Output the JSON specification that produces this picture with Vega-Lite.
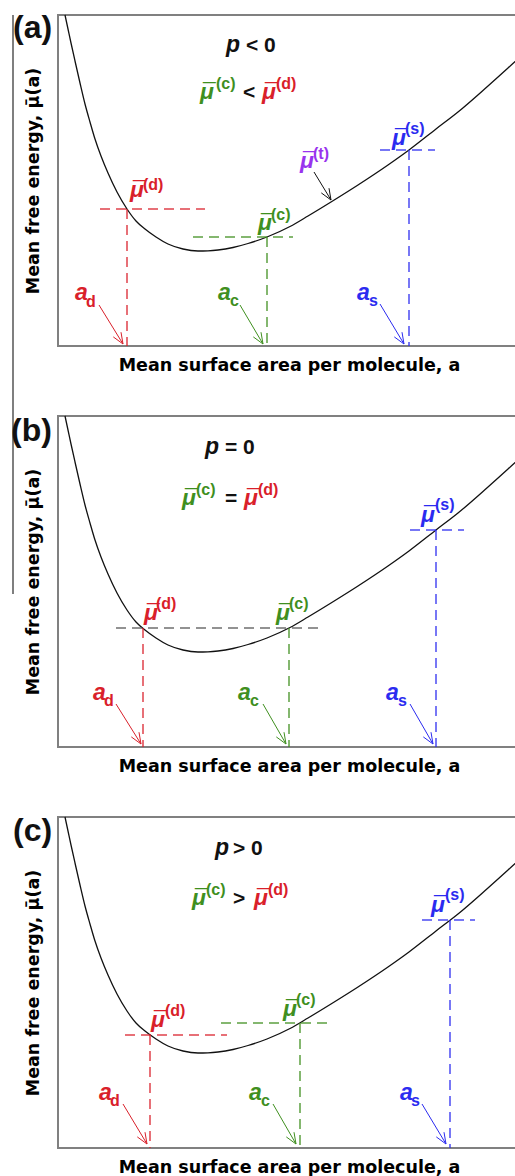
{
  "$schema": "https://vega.github.io/schema/vega-lite/v6.json",
  "padding": {"left": 10, "top": 10, "right": 0, "bottom": 0},
  "autosize": {"type": "pad"},
  "bounds": "flush",
  "spacing": 70,
  "config": {
    "view": {"stroke": "#808080", "strokeWidth": 2},
    "axis": {"ticks": false, "labels": false, "domain": false, "grid": false, "titleFont": "DejaVu Sans", "titleFontSize": 17.5, "titleFontWeight": "bold", "titleColor": "#000000"},
    "axisX": {"titlePadding": 10},
    "axisY": {"titlePadding": 16}
  },
  "datasets": {
    "curve": [
      {"x": 7, "y": 331}, {"x": 10, "y": 317}, {"x": 13, "y": 303}, {"x": 17, "y": 285}, {"x": 22, "y": 263},
      {"x": 27, "y": 242}, {"x": 32, "y": 224}, {"x": 37, "y": 207}, {"x": 43, "y": 190}, {"x": 50, "y": 173},
      {"x": 59, "y": 154}, {"x": 69, "y": 137}, {"x": 78, "y": 125}, {"x": 87, "y": 117}, {"x": 98, "y": 109},
      {"x": 110, "y": 102}, {"x": 125, "y": 97}, {"x": 140, "y": 95}, {"x": 150, "y": 95.2}, {"x": 160, "y": 96},
      {"x": 175, "y": 98.5}, {"x": 190, "y": 102.5}, {"x": 209, "y": 109}, {"x": 232, "y": 119.5}, {"x": 250, "y": 130},
      {"x": 273, "y": 144}, {"x": 300, "y": 161}, {"x": 330, "y": 181}, {"x": 351, "y": 196}, {"x": 378, "y": 217},
      {"x": 400, "y": 234}, {"x": 430, "y": 260}, {"x": 460, "y": 287}, {"x": 470, "y": 296}
    ],
    "dash": [
      {"p": "a", "k": "d", "x": 42, "y": 137, "x2": 147, "y2": 137},
      {"p": "a", "k": "d", "x": 69, "y": 137, "x2": 69, "y2": 0},
      {"p": "a", "k": "c", "x": 135, "y": 109, "x2": 235, "y2": 109},
      {"p": "a", "k": "c", "x": 209, "y": 109, "x2": 209, "y2": 0},
      {"p": "a", "k": "s", "x": 322, "y": 196, "x2": 377, "y2": 196},
      {"p": "a", "k": "s", "x": 351, "y": 196, "x2": 351, "y2": 0},
      {"p": "b", "k": "g", "x": 58, "y": 119, "x2": 260, "y2": 119},
      {"p": "b", "k": "d", "x": 85, "y": 119, "x2": 85, "y2": 0},
      {"p": "b", "k": "c", "x": 231, "y": 119, "x2": 231, "y2": 0},
      {"p": "b", "k": "s", "x": 352, "y": 217, "x2": 406, "y2": 217},
      {"p": "b", "k": "s", "x": 378, "y": 217, "x2": 378, "y2": 0},
      {"p": "c", "k": "d", "x": 67, "y": 113, "x2": 169, "y2": 113},
      {"p": "c", "k": "d", "x": 92, "y": 113, "x2": 92, "y2": 0},
      {"p": "c", "k": "c", "x": 163, "y": 125, "x2": 271, "y2": 125},
      {"p": "c", "k": "c", "x": 242, "y": 125, "x2": 242, "y2": 0},
      {"p": "c", "k": "s", "x": 364, "y": 228, "x2": 417, "y2": 228},
      {"p": "c", "k": "s", "x": 392, "y": 228, "x2": 392, "y2": 0}
    ],
    "arrow": [
      {"p": "a", "k": "d", "x": 41, "y": 41, "x2": 65, "y2": 2},
      {"p": "a", "k": "d", "x": 55.3, "y": 9.1, "x2": 65, "y2": 2},
      {"p": "a", "k": "d", "x": 63, "y": 13.8, "x2": 65, "y2": 2},
      {"p": "a", "k": "c", "x": 182, "y": 41, "x2": 205, "y2": 2},
      {"p": "a", "k": "c", "x": 195.3, "y": 9.1, "x2": 205, "y2": 2},
      {"p": "a", "k": "c", "x": 203, "y": 13.8, "x2": 205, "y2": 2},
      {"p": "a", "k": "s", "x": 322, "y": 42, "x2": 346, "y2": 2},
      {"p": "a", "k": "s", "x": 336.3, "y": 9.1, "x2": 346, "y2": 2},
      {"p": "a", "k": "s", "x": 344, "y": 13.8, "x2": 346, "y2": 2},
      {"p": "a", "k": "k", "x": 256, "y": 174, "x2": 273, "y2": 146},
      {"p": "a", "k": "k", "x": 263.3, "y": 153.1, "x2": 273, "y2": 146},
      {"p": "a", "k": "k", "x": 271, "y": 157.8, "x2": 273, "y2": 146},
      {"p": "b", "k": "d", "x": 58, "y": 43, "x2": 83, "y2": 3},
      {"p": "b", "k": "d", "x": 73.3, "y": 10.1, "x2": 83, "y2": 3},
      {"p": "b", "k": "d", "x": 81, "y": 14.8, "x2": 83, "y2": 3},
      {"p": "b", "k": "c", "x": 205, "y": 43, "x2": 228, "y2": 3},
      {"p": "b", "k": "c", "x": 218.3, "y": 10.1, "x2": 228, "y2": 3},
      {"p": "b", "k": "c", "x": 226, "y": 14.8, "x2": 228, "y2": 3},
      {"p": "b", "k": "s", "x": 352, "y": 43, "x2": 375, "y2": 3},
      {"p": "b", "k": "s", "x": 365.3, "y": 10.1, "x2": 375, "y2": 3},
      {"p": "b", "k": "s", "x": 373, "y": 14.8, "x2": 375, "y2": 3},
      {"p": "c", "k": "d", "x": 65, "y": 44, "x2": 89, "y2": 4},
      {"p": "c", "k": "d", "x": 79.3, "y": 11.1, "x2": 89, "y2": 4},
      {"p": "c", "k": "d", "x": 87, "y": 15.8, "x2": 89, "y2": 4},
      {"p": "c", "k": "c", "x": 215, "y": 44, "x2": 238, "y2": 4},
      {"p": "c", "k": "c", "x": 228.3, "y": 11.1, "x2": 238, "y2": 4},
      {"p": "c", "k": "c", "x": 236, "y": 15.8, "x2": 238, "y2": 4},
      {"p": "c", "k": "s", "x": 364, "y": 44, "x2": 388, "y2": 4},
      {"p": "c", "k": "s", "x": 378.3, "y": 11.1, "x2": 388, "y2": 4},
      {"p": "c", "k": "s", "x": 386, "y": 15.8, "x2": 388, "y2": 4}
    ],
    "big": [
      {"p": "a", "k": "k", "x": 168, "y": 294, "t": "p"},
      {"p": "a", "k": "c", "x": 142, "y": 247, "t": "μ"},
      {"p": "a", "k": "d", "x": 204, "y": 247, "t": "μ"},
      {"p": "a", "k": "d", "x": 72, "y": 149, "t": "μ"},
      {"p": "a", "k": "c", "x": 200, "y": 116, "t": "μ"},
      {"p": "a", "k": "t", "x": 242, "y": 178, "t": "μ"},
      {"p": "a", "k": "s", "x": 334, "y": 201, "t": "μ"},
      {"p": "a", "k": "d", "x": 17, "y": 46, "t": "a"},
      {"p": "a", "k": "c", "x": 160, "y": 46, "t": "a"},
      {"p": "a", "k": "s", "x": 299, "y": 46, "t": "a"},
      {"p": "b", "k": "k", "x": 147, "y": 293, "t": "p"},
      {"p": "b", "k": "c", "x": 124, "y": 242, "t": "μ"},
      {"p": "b", "k": "d", "x": 186, "y": 242, "t": "μ"},
      {"p": "b", "k": "d", "x": 86, "y": 127, "t": "μ"},
      {"p": "b", "k": "c", "x": 218, "y": 127, "t": "μ"},
      {"p": "b", "k": "s", "x": 363, "y": 225, "t": "μ"},
      {"p": "b", "k": "d", "x": 35, "y": 47, "t": "a"},
      {"p": "b", "k": "c", "x": 180, "y": 47, "t": "a"},
      {"p": "b", "k": "s", "x": 328, "y": 47, "t": "a"},
      {"p": "c", "k": "k", "x": 157, "y": 293, "t": "p"},
      {"p": "c", "k": "c", "x": 134, "y": 243, "t": "μ"},
      {"p": "c", "k": "d", "x": 196, "y": 243, "t": "μ"},
      {"p": "c", "k": "d", "x": 93, "y": 121, "t": "μ"},
      {"p": "c", "k": "c", "x": 225, "y": 132, "t": "μ"},
      {"p": "c", "k": "s", "x": 373, "y": 236, "t": "μ"},
      {"p": "c", "k": "d", "x": 41, "y": 48, "t": "a"},
      {"p": "c", "k": "c", "x": 191, "y": 48, "t": "a"},
      {"p": "c", "k": "s", "x": 342, "y": 48, "t": "a"}
    ],
    "small": [
      {"p": "a", "k": "c", "x": 158, "y": 257, "t": "(c)"},
      {"p": "a", "k": "d", "x": 218, "y": 257, "t": "(d)"},
      {"p": "a", "k": "d", "x": 85, "y": 156, "t": "(d)"},
      {"p": "a", "k": "c", "x": 213, "y": 126, "t": "(c)"},
      {"p": "a", "k": "t", "x": 255, "y": 187, "t": "(t)"},
      {"p": "a", "k": "s", "x": 347, "y": 212, "t": "(s)"},
      {"p": "a", "k": "d", "x": 28, "y": 39, "t": "d"},
      {"p": "a", "k": "c", "x": 172, "y": 40, "t": "c"},
      {"p": "a", "k": "s", "x": 311, "y": 40, "t": "s"},
      {"p": "b", "k": "c", "x": 138, "y": 252, "t": "(c)"},
      {"p": "b", "k": "d", "x": 200, "y": 252, "t": "(d)"},
      {"p": "b", "k": "d", "x": 98, "y": 138, "t": "(d)"},
      {"p": "b", "k": "c", "x": 231, "y": 138, "t": "(c)"},
      {"p": "b", "k": "s", "x": 377, "y": 237, "t": "(s)"},
      {"p": "b", "k": "d", "x": 46, "y": 41, "t": "d"},
      {"p": "b", "k": "c", "x": 192, "y": 41, "t": "c"},
      {"p": "b", "k": "s", "x": 340, "y": 41, "t": "s"},
      {"p": "c", "k": "c", "x": 148, "y": 253, "t": "(c)"},
      {"p": "c", "k": "d", "x": 210, "y": 253, "t": "(d)"},
      {"p": "c", "k": "d", "x": 107, "y": 132, "t": "(d)"},
      {"p": "c", "k": "c", "x": 238, "y": 143, "t": "(c)"},
      {"p": "c", "k": "s", "x": 387, "y": 248, "t": "(s)"},
      {"p": "c", "k": "d", "x": 52, "y": 42, "t": "d"},
      {"p": "c", "k": "c", "x": 203, "y": 42, "t": "c"},
      {"p": "c", "k": "s", "x": 353, "y": 42, "t": "s"}
    ],
    "sym": [
      {"p": "a", "x": 188, "y": 294, "t": "< 0"},
      {"p": "a", "x": 185, "y": 247, "t": "<"},
      {"p": "b", "x": 167, "y": 293, "t": "= 0"},
      {"p": "b", "x": 167, "y": 242, "t": "="},
      {"p": "c", "x": 175, "y": 293, "t": "> 0"},
      {"p": "c", "x": 175, "y": 243, "t": ">"}
    ],
    "lab": [
      {"p": "a", "x": -45, "y": 308, "t": "(a)"},
      {"p": "b", "x": -47, "y": 306, "t": "(b)"},
      {"p": "c", "x": -45, "y": 307, "t": "(c)"}
    ],
    "edge": [
      {"p": "a", "x": -45, "y": 331, "y2": -248}
    ]
  },
  "vconcat": [
    {
      "width": 462, "height": 331,
      "layer": [
        {"data": {"name": "curve"}, "mark": {"type": "line", "color": "#111111", "strokeWidth": 1.3, "interpolate": "monotone"},
         "encoding": {"x": {"field": "x", "type": "quantitative", "scale": {"domain": [0, 462], "nice": false, "zero": false}, "axis": {"title": "Mean surface area per molecule, a"}},
                      "y": {"field": "y", "type": "quantitative", "scale": {"domain": [0, 331], "nice": false, "zero": false}, "axis": {"title": "Mean free energy, μ̄(a)"}}}},
        {"data": {"name": "edge"}, "transform": [{"filter": "datum.p == 'a'"}], "mark": {"type": "rule", "color": "#555555", "strokeWidth": 1.5},
         "encoding": {"x": {"field": "x", "type": "quantitative"}, "y": {"field": "y", "type": "quantitative"}, "y2": {"field": "y2"}}},
        {"data": {"name": "dash"}, "transform": [{"filter": "datum.p == 'a'"}], "mark": {"type": "rule", "strokeDash": [10, 6], "strokeWidth": 1.5, "opacity": 0.85},
         "encoding": {"x": {"field": "x", "type": "quantitative"}, "y": {"field": "y", "type": "quantitative"}, "x2": {"field": "x2"}, "y2": {"field": "y2"},
                      "color": {"field": "k", "type": "nominal", "scale": {"domain": ["d", "c", "s", "t", "k", "g"], "range": ["#d9202a", "#3f8f1f", "#2b2bf0", "#9933ee", "#111111", "#555555"]}, "legend": null}}},
        {"data": {"name": "arrow"}, "transform": [{"filter": "datum.p == 'a'"}], "mark": {"type": "rule", "strokeWidth": 1},
         "encoding": {"x": {"field": "x", "type": "quantitative"}, "y": {"field": "y", "type": "quantitative"}, "x2": {"field": "x2"}, "y2": {"field": "y2"},
                      "color": {"field": "k", "type": "nominal", "legend": null}}},
        {"data": {"name": "big"}, "transform": [{"filter": "datum.p == 'a'"}], "mark": {"type": "text", "font": "Liberation Sans", "fontWeight": "bold", "fontStyle": "italic", "fontSize": 23, "align": "left", "baseline": "alphabetic"},
         "encoding": {"x": {"field": "x", "type": "quantitative"}, "y": {"field": "y", "type": "quantitative"}, "text": {"field": "t"}, "color": {"field": "k", "type": "nominal", "legend": null}}},
        {"data": {"name": "big"}, "transform": [{"filter": "datum.p == 'a' && datum.t == 'μ'"}], "mark": {"type": "text", "text": "¯", "font": "Liberation Sans", "fontWeight": "bold", "fontSize": 23, "align": "left", "baseline": "alphabetic", "dx": 3, "dy": 1},
         "encoding": {"x": {"field": "x", "type": "quantitative"}, "y": {"field": "y", "type": "quantitative"}, "color": {"field": "k", "type": "nominal", "legend": null}}},
        {"data": {"name": "small"}, "transform": [{"filter": "datum.p == 'a'"}], "mark": {"type": "text", "font": "Liberation Sans", "fontWeight": "bold", "fontSize": 16, "align": "left", "baseline": "alphabetic"},
         "encoding": {"x": {"field": "x", "type": "quantitative"}, "y": {"field": "y", "type": "quantitative"}, "text": {"field": "t"}, "color": {"field": "k", "type": "nominal", "legend": null}}},
        {"data": {"name": "sym"}, "transform": [{"filter": "datum.p == 'a'"}], "mark": {"type": "text", "font": "Liberation Sans", "fontWeight": "bold", "fontSize": 21, "align": "left", "baseline": "alphabetic", "color": "#111111"},
         "encoding": {"x": {"field": "x", "type": "quantitative"}, "y": {"field": "y", "type": "quantitative"}, "text": {"field": "t"}}},
        {"data": {"name": "lab"}, "transform": [{"filter": "datum.p == 'a'"}], "mark": {"type": "text", "font": "Liberation Sans", "fontWeight": "bold", "fontSize": 32, "align": "left", "baseline": "alphabetic", "color": "#111111"},
         "encoding": {"x": {"field": "x", "type": "quantitative"}, "y": {"field": "y", "type": "quantitative"}, "text": {"field": "t"}}}
      ]
    },
    {
      "width": 462, "height": 331,
      "layer": [
        {"data": {"name": "curve"}, "mark": {"type": "line", "color": "#111111", "strokeWidth": 1.3, "interpolate": "monotone"},
         "encoding": {"x": {"field": "x", "type": "quantitative", "scale": {"domain": [0, 462], "nice": false, "zero": false}, "axis": {"title": "Mean surface area per molecule, a"}},
                      "y": {"field": "y", "type": "quantitative", "scale": {"domain": [0, 331], "nice": false, "zero": false}, "axis": {"title": "Mean free energy, μ̄(a)"}}}},
        {"data": {"name": "dash"}, "transform": [{"filter": "datum.p == 'b'"}], "mark": {"type": "rule", "strokeDash": [10, 6], "strokeWidth": 1.5, "opacity": 0.85},
         "encoding": {"x": {"field": "x", "type": "quantitative"}, "y": {"field": "y", "type": "quantitative"}, "x2": {"field": "x2"}, "y2": {"field": "y2"},
                      "color": {"field": "k", "type": "nominal", "scale": {"domain": ["d", "c", "s", "t", "k", "g"], "range": ["#d9202a", "#3f8f1f", "#2b2bf0", "#9933ee", "#111111", "#555555"]}, "legend": null}}},
        {"data": {"name": "arrow"}, "transform": [{"filter": "datum.p == 'b'"}], "mark": {"type": "rule", "strokeWidth": 1},
         "encoding": {"x": {"field": "x", "type": "quantitative"}, "y": {"field": "y", "type": "quantitative"}, "x2": {"field": "x2"}, "y2": {"field": "y2"},
                      "color": {"field": "k", "type": "nominal", "legend": null}}},
        {"data": {"name": "big"}, "transform": [{"filter": "datum.p == 'b'"}], "mark": {"type": "text", "font": "Liberation Sans", "fontWeight": "bold", "fontStyle": "italic", "fontSize": 23, "align": "left", "baseline": "alphabetic"},
         "encoding": {"x": {"field": "x", "type": "quantitative"}, "y": {"field": "y", "type": "quantitative"}, "text": {"field": "t"}, "color": {"field": "k", "type": "nominal", "legend": null}}},
        {"data": {"name": "big"}, "transform": [{"filter": "datum.p == 'b' && datum.t == 'μ'"}], "mark": {"type": "text", "text": "¯", "font": "Liberation Sans", "fontWeight": "bold", "fontSize": 23, "align": "left", "baseline": "alphabetic", "dx": 3, "dy": 1},
         "encoding": {"x": {"field": "x", "type": "quantitative"}, "y": {"field": "y", "type": "quantitative"}, "color": {"field": "k", "type": "nominal", "legend": null}}},
        {"data": {"name": "small"}, "transform": [{"filter": "datum.p == 'b'"}], "mark": {"type": "text", "font": "Liberation Sans", "fontWeight": "bold", "fontSize": 16, "align": "left", "baseline": "alphabetic"},
         "encoding": {"x": {"field": "x", "type": "quantitative"}, "y": {"field": "y", "type": "quantitative"}, "text": {"field": "t"}, "color": {"field": "k", "type": "nominal", "legend": null}}},
        {"data": {"name": "sym"}, "transform": [{"filter": "datum.p == 'b'"}], "mark": {"type": "text", "font": "Liberation Sans", "fontWeight": "bold", "fontSize": 21, "align": "left", "baseline": "alphabetic", "color": "#111111"},
         "encoding": {"x": {"field": "x", "type": "quantitative"}, "y": {"field": "y", "type": "quantitative"}, "text": {"field": "t"}}},
        {"data": {"name": "lab"}, "transform": [{"filter": "datum.p == 'b'"}], "mark": {"type": "text", "font": "Liberation Sans", "fontWeight": "bold", "fontSize": 32, "align": "left", "baseline": "alphabetic", "color": "#111111"},
         "encoding": {"x": {"field": "x", "type": "quantitative"}, "y": {"field": "y", "type": "quantitative"}, "text": {"field": "t"}}}
      ]
    },
    {
      "width": 462, "height": 331,
      "layer": [
        {"data": {"name": "curve"}, "mark": {"type": "line", "color": "#111111", "strokeWidth": 1.3, "interpolate": "monotone"},
         "encoding": {"x": {"field": "x", "type": "quantitative", "scale": {"domain": [0, 462], "nice": false, "zero": false}, "axis": {"title": "Mean surface area per molecule, a"}},
                      "y": {"field": "y", "type": "quantitative", "scale": {"domain": [0, 331], "nice": false, "zero": false}, "axis": {"title": "Mean free energy, μ̄(a)"}}}},
        {"data": {"name": "dash"}, "transform": [{"filter": "datum.p == 'c'"}], "mark": {"type": "rule", "strokeDash": [10, 6], "strokeWidth": 1.5, "opacity": 0.85},
         "encoding": {"x": {"field": "x", "type": "quantitative"}, "y": {"field": "y", "type": "quantitative"}, "x2": {"field": "x2"}, "y2": {"field": "y2"},
                      "color": {"field": "k", "type": "nominal", "scale": {"domain": ["d", "c", "s", "t", "k", "g"], "range": ["#d9202a", "#3f8f1f", "#2b2bf0", "#9933ee", "#111111", "#555555"]}, "legend": null}}},
        {"data": {"name": "arrow"}, "transform": [{"filter": "datum.p == 'c'"}], "mark": {"type": "rule", "strokeWidth": 1},
         "encoding": {"x": {"field": "x", "type": "quantitative"}, "y": {"field": "y", "type": "quantitative"}, "x2": {"field": "x2"}, "y2": {"field": "y2"},
                      "color": {"field": "k", "type": "nominal", "legend": null}}},
        {"data": {"name": "big"}, "transform": [{"filter": "datum.p == 'c'"}], "mark": {"type": "text", "font": "Liberation Sans", "fontWeight": "bold", "fontStyle": "italic", "fontSize": 23, "align": "left", "baseline": "alphabetic"},
         "encoding": {"x": {"field": "x", "type": "quantitative"}, "y": {"field": "y", "type": "quantitative"}, "text": {"field": "t"}, "color": {"field": "k", "type": "nominal", "legend": null}}},
        {"data": {"name": "big"}, "transform": [{"filter": "datum.p == 'c' && datum.t == 'μ'"}], "mark": {"type": "text", "text": "¯", "font": "Liberation Sans", "fontWeight": "bold", "fontSize": 23, "align": "left", "baseline": "alphabetic", "dx": 3, "dy": 1},
         "encoding": {"x": {"field": "x", "type": "quantitative"}, "y": {"field": "y", "type": "quantitative"}, "color": {"field": "k", "type": "nominal", "legend": null}}},
        {"data": {"name": "small"}, "transform": [{"filter": "datum.p == 'c'"}], "mark": {"type": "text", "font": "Liberation Sans", "fontWeight": "bold", "fontSize": 16, "align": "left", "baseline": "alphabetic"},
         "encoding": {"x": {"field": "x", "type": "quantitative"}, "y": {"field": "y", "type": "quantitative"}, "text": {"field": "t"}, "color": {"field": "k", "type": "nominal", "legend": null}}},
        {"data": {"name": "sym"}, "transform": [{"filter": "datum.p == 'c'"}], "mark": {"type": "text", "font": "Liberation Sans", "fontWeight": "bold", "fontSize": 21, "align": "left", "baseline": "alphabetic", "color": "#111111"},
         "encoding": {"x": {"field": "x", "type": "quantitative"}, "y": {"field": "y", "type": "quantitative"}, "text": {"field": "t"}}},
        {"data": {"name": "lab"}, "transform": [{"filter": "datum.p == 'c'"}], "mark": {"type": "text", "font": "Liberation Sans", "fontWeight": "bold", "fontSize": 32, "align": "left", "baseline": "alphabetic", "color": "#111111"},
         "encoding": {"x": {"field": "x", "type": "quantitative"}, "y": {"field": "y", "type": "quantitative"}, "text": {"field": "t"}}}
      ]
    }
  ]
}
